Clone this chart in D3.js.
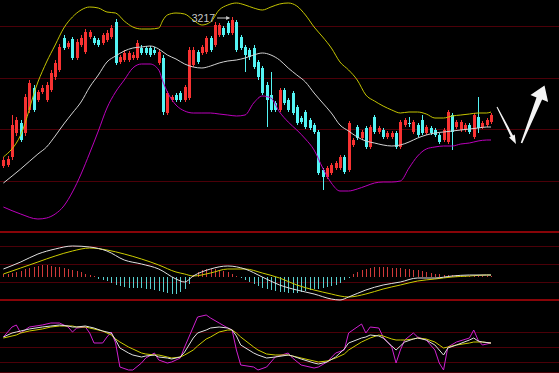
<!DOCTYPE html>
<html>
<head>
<meta charset="utf-8">
<script src="https://cdn.jsdelivr.net/npm/d3@7/dist/d3.min.js"></script>
<style>
html,body{margin:0;padding:0;background:#000;overflow:hidden;}
svg{display:block;}
</style>
</head>
<body>
<svg id="chart" width="559" height="373"></svg>
<script>
// ---------- data ----------
const open  = [2918,2920,2936,2984,3004,2984,3030,3074,3050,3066,3050,3070,3096,3110,3174,3156,3172,3134,3160,3146,
               3176,3174,3170,3164,3170,3176,3206,3126,3130,3130,3134,3134,3154,3154,3154,3150,3124,3134,3024,3050,
               3060,3064,3050,3054,3120,3146,3144,3146,3174,3160,3180,3194,3204,3184,3206,3176,3156,3150,3154,3126,
               3114,3080,3060,3044,3030,3070,3050,3064,3036,3014,3026,3010,3000,2986,2910,2896,2904,2914,2914,2936,
               2910,2960,2996,2974,2994,2956,3016,2986,2990,2976,2976,2984,2956,3000,3004,2986,3000,3010,2984,2994,
               2990,2980,2970,2966,3020,2996,2990,2990,3000,2976,3016,2996,3000,3006];
const high  = [2936,2938,3020,3016,3010,3062,3090,3080,3070,3080,3086,3110,3130,3162,3180,3168,3176,3172,3180,3192,
               3190,3178,3174,3184,3190,3200,3212,3140,3150,3148,3146,3170,3160,3158,3158,3156,3150,3140,3068,3060,
               3064,3068,3080,3156,3156,3150,3160,3178,3178,3206,3204,3198,3208,3217,3210,3180,3160,3154,3160,3130,
               3118,3086,3106,3048,3074,3074,3054,3068,3040,3018,3030,3014,3004,2990,2914,2918,2924,2928,2940,2940,
               3008,2974,3000,2990,2998,3000,3020,2998,2994,2988,2988,2988,3010,3014,3016,3010,3004,3020,3000,2998,
               2994,2984,2994,3030,3024,3010,3010,3004,3004,3024,3056,3008,3014,3024];
const low   = [2914,2916,2930,2978,2966,2978,3024,3026,3046,3062,3046,3066,3090,3106,3150,3152,3130,3130,3156,3142,
               3172,3160,3156,3160,3166,3172,3120,3122,3126,3126,3130,3130,3140,3140,3136,3140,3120,3020,3020,3046,
               3046,3046,3046,3050,3116,3122,3140,3142,3146,3156,3176,3176,3180,3180,3146,3150,3106,3130,3112,3090,
               3060,2996,3026,3026,3026,3040,3026,3020,3000,3002,2992,2990,2982,2900,2870,2892,2900,2910,2910,2902,
               2906,2956,2970,2970,2952,2952,2982,2982,2972,2972,2972,2952,2952,2996,2996,2982,2976,2980,2980,2980,
               2976,2962,2966,2962,2950,2992,2986,2986,2982,2972,2984,2992,2996,3002];
const close = [2930,2932,3000,3010,2970,3056,3084,3030,3066,3074,3080,3104,3124,3156,3154,3164,3134,3166,3174,3186,
               3186,3164,3160,3180,3184,3194,3124,3136,3144,3144,3140,3164,3144,3144,3140,3144,3146,3026,3064,3056,
               3050,3050,3076,3150,3150,3126,3156,3174,3150,3200,3200,3180,3184,3210,3150,3154,3140,3136,3116,3096,
               3064,3050,3030,3030,3070,3044,3030,3024,3004,3006,2996,2994,2986,2904,2896,2914,2920,2924,2936,2906,
               3004,2970,2974,2986,2956,2996,2986,2994,2976,2984,2984,2956,3006,3010,3002,3006,2980,2984,2996,2984,
               2980,2966,2990,3026,2986,3006,3006,3000,2986,3020,2994,3004,3010,3020];

// Bollinger bands, read at these candle indices
const bandIdx   = [0,4,8,10,12,14,16,18,20,22,24,26,28,30,32,34,36,37,38,40,42,44,46,48,50,52,54,56,58,60,
                   62,64,66,68,70,72,74,76,78,80,82,84,86,88,90,92,94,96,98,100,102,104,106,108,110,112,113];
const bollUpper = [2936,2980,3086,3126,3160,3194,3216,3230,3236,3234,3226,3224,3208,3196,3192,3192,3194,3210,3220,3224,
                   3222,3210,3200,3206,3230,3240,3244,3240,3234,3230,3236,3242,3244,3238,3220,3196,3176,3154,3126,3110,
                   3090,3060,3048,3038,3030,3024,3026,3026,3022,3014,3014,3018,3020,3022,3024,3024,3026];
const bollMid   = [2884,2912,2942,2956,2978,3002,3024,3046,3076,3100,3126,3138,3148,3154,3156,3158,3152,3146,3140,3132,
                   3122,3116,3114,3118,3124,3128,3130,3134,3140,3144,3140,3130,3114,3100,3086,3064,3044,3024,3000,2988,
                   2976,2968,2964,2960,2958,2960,2966,2974,2980,2984,2986,2988,2990,2992,2994,2996,2996];
const bollLower = [2836,2822,2812,2814,2822,2838,2866,2902,2944,2988,3034,3066,3090,3114,3122,3122,3110,3086,3066,3040,
                   3028,3024,3024,3024,3022,3020,3018,3020,3044,3058,3054,3026,3006,2990,2972,2950,2914,2884,2868,2868,
                   2872,2878,2884,2886,2886,2888,2914,2938,2952,2956,2958,2958,2962,2964,2968,2970,2970];

// MACD
const macdIdx  = [0,4,8,12,16,20,24,28,32,36,40,42,44,48,52,56,60,64,68,72,76,78,80,84,88,92,96,100,104,108,112,113];
const dif      = [8,15,23,28,31,30,26,17,13,8,-2,-5,1,8,11,8,0,-8,-13,-17,-22,-23,-20,-13,-8,-5,-1,-1,1,2,2,2];
const dea      = [3,9,15,21,26,29,27,23,18,12,5,3,1,4,8,8,4,-1,-8,-13,-17,-19,-20,-17,-12,-8,-4,-2,0,1,2,2];
const macdHist = [3,3,4,5,6,8,9,10,11,12,12,11,10,10,9,8,7,6,5,3,2,1,
                  -2,-3,-4,-6,-8,-9,-10,-11,-11,-11,-11,-12,-12,-13,-14,-15,-16,-17,-17,-15,-12,-7,
                  2,5,7,8,8,8,7,6,5,3,1,
                  -1,-3,-5,-7,-9,-11,-12,-13,-14,-15,-15,-16,-16,-16,-15,-14,-13,-12,-12,-11,-10,-9,-8,-6,-3,-1,
                  3,5,7,8,9,10,10,10,10,9,9,9,8,8,7,7,6,5,4,
                  3,3,2,2,2,2,1,1,1,1,1,1,1,1];

// KDJ
const kdjIdx = [0,2,3,4,6,9,11,13,15,16,17,19,20,21,23,24,25,26,27,29,30,32,33,35,36,38,39,41,42,44,45,47,48,50,52,
                53,54,55,58,59,61,63,66,67,69,72,73,75,77,79,80,83,84,85,87,88,90,91,92,93,95,96,98,100,101,102,103,
                105,108,109,110,111,113];
const kLine = [70,78,80,82,86,90,92,94,92,90,90,92,90,88,82,80,78,64,48,38,34,30,32,34,30,28,26,30,40,68,78,84,88,90,88,
               84,72,54,38,34,28,30,34,32,26,18,16,20,30,46,58,68,70,74,72,68,52,44,52,60,66,68,64,54,44,34,48,
               54,64,68,62,60,58];
const dLine = [68,72,74,78,82,86,90,92,92,92,90,90,88,86,82,78,74,66,60,50,46,38,36,34,34,30,28,30,34,44,52,66,70,80,84,
               84,78,70,50,44,36,34,34,32,28,22,20,22,28,36,44,60,64,68,74,72,66,64,64,64,66,68,66,60,54,48,50,
               54,58,60,60,60,58];
const jLine = [70,90,94,78,90,94,98,98,90,80,88,90,78,58,58,70,80,58,10,4,4,18,28,38,24,18,20,28,50,90,110,114,108,98,88,
               84,44,14,10,4,10,30,38,28,14,8,10,20,38,44,78,96,78,90,88,70,50,18,44,64,78,70,64,44,18,4,50,
               60,68,84,64,54,58];

const peakIndex = 53;
const peakLabel = "3217";

// ---------- drawing ----------
const W = 559, H = 373;
const svg = d3.select("#chart");
svg.append("rect").attr("width", W).attr("height", H).attr("fill", "#000");

const n = open.length;
const x  = d3.scaleLinear().domain([0, n - 1]).range([3.4, 491]);
const yP = d3.scaleLinear().domain([2786, 3250]).range([232, 0]);
const yM = d3.scaleLinear().domain([-23, 45]).range([300, 232]);
const yK = d3.scaleLinear().domain([0, 100]).range([372, 322]);

const COL = {
  up: "#f83232", down: "#54f4f4",
  upper: "#c4c400", mid: "#d2d2d2", lower: "#bc00bc",
  white: "#e0e0e0", yellow: "#cccc00", magenta: "#d020d0",
  grid: "#4c0008", sep: "#880408",
  histUp: "#d03a3a", histDown: "#58d0d0"
};

// grid lines
const grid = svg.append("g").attr("shape-rendering", "crispEdges");
const mainGrid = [1, 2, 3, 4].map(k => 232 - k * 51.5);
const macdGrid = [1, 2, 3].map(k => 300 - k * 18);
const kdjGrid = [80, 50, 20, 0].map(v => yK(v));
grid.selectAll("line.g").data([...mainGrid, ...macdGrid, ...kdjGrid]).join("line")
  .attr("class", "g")
  .attr("x1", 0).attr("x2", W)
  .attr("y1", d => Math.round(d) + 0.5).attr("y2", d => Math.round(d) + 0.5)
  .attr("stroke", COL.grid).attr("stroke-width", 1);
grid.selectAll("line.s").data([232, 300]).join("line")
  .attr("class", "s")
  .attr("x1", 0).attr("x2", W)
  .attr("y1", d => d).attr("y2", d => d)
  .attr("stroke", COL.sep).attr("stroke-width", 2);

// candles
const idx = d3.range(n);
const cg = svg.append("g").attr("shape-rendering", "crispEdges");
const candle = cg.selectAll("g").data(idx).join("g");
const colOf = i => (close[i] >= open[i] ? COL.up : COL.down);
candle.append("line")
  .attr("x1", i => Math.round(x(i)) + 0.5).attr("x2", i => Math.round(x(i)) + 0.5)
  .attr("y1", i => yP(high[i])).attr("y2", i => yP(low[i]))
  .attr("stroke", colOf);
candle.append("rect")
  .attr("x", i => Math.round(x(i)) - 1)
  .attr("y", i => yP(Math.max(open[i], close[i])))
  .attr("width", 3)
  .attr("height", i => Math.max(1, yP(Math.min(open[i], close[i])) - yP(Math.max(open[i], close[i]))))
  .attr("fill", colOf);

// Bollinger lines
svg.append("clipPath").attr("id", "mainClip")
  .append("rect").attr("x", 0).attr("y", 0).attr("width", W).attr("height", 231);
function seriesLine(idxArr, vals, yScale, color, curve, parent) {
  const pts = idxArr.map((d, k) => [x(d), yScale(vals[k])]);
  (parent || svg).append("path")
    .attr("d", d3.line().curve(curve)(pts))
    .attr("fill", "none").attr("stroke", color).attr("stroke-width", 1);
}
const bands = svg.append("g").attr("clip-path", "url(#mainClip)");
seriesLine(bandIdx, bollLower, yP, COL.lower, d3.curveMonotoneX, bands);
seriesLine(bandIdx, bollMid, yP, COL.mid, d3.curveMonotoneX, bands);
seriesLine(bandIdx, bollUpper, yP, COL.upper, d3.curveMonotoneX, bands);

// peak label with pointer
const px = x(peakIndex), py = yP(+peakLabel);
svg.append("text")
  .attr("x", px - 17).attr("y", py + 5)
  .attr("text-anchor", "end")
  .attr("font-family", "Liberation Sans, Arial, sans-serif")
  .attr("font-size", 10.5)
  .attr("fill", "#c8c8c8")
  .text(peakLabel);
svg.append("line")
  .attr("x1", px - 15).attr("x2", px - 3)
  .attr("y1", py + 1.5).attr("y2", py + 1.5)
  .attr("stroke", "#c8c8c8").attr("stroke-width", 1);
svg.append("path")
  .attr("d", `M${px - 2},${py + 1.5} L${px - 6},${py - 0.5} L${px - 6},${py + 3.5} Z`)
  .attr("fill", "#c8c8c8");

// MACD histogram
const mg = svg.append("g").attr("shape-rendering", "crispEdges");
mg.selectAll("line").data(idx).join("line")
  .attr("x1", i => Math.round(x(i)) + 0.5).attr("x2", i => Math.round(x(i)) + 0.5)
  .attr("y1", yM(0)).attr("y2", i => yM(macdHist[i]))
  .attr("stroke", i => (macdHist[i] >= 0 ? COL.histUp : COL.histDown))
  .attr("stroke-width", 1);
seriesLine(macdIdx, dea, yM, COL.yellow, d3.curveMonotoneX);
seriesLine(macdIdx, dif, yM, COL.white, d3.curveMonotoneX);

// KDJ
seriesLine(kdjIdx, jLine, yK, COL.magenta, d3.curveLinear);
seriesLine(kdjIdx, dLine, yK, COL.yellow, d3.curveLinear);
seriesLine(kdjIdx, kLine, yK, COL.white, d3.curveLinear);

// hand-drawn style arrows (annotation)
function arrow(tail, tip, tailHalf, shaftHalf, headHalf, headLen) {
  const dx = tip[0] - tail[0], dy = tip[1] - tail[1];
  const L = Math.hypot(dx, dy), ux = dx / L, uy = dy / L;
  const nx = -uy, ny = ux;
  const bx = tip[0] - ux * headLen, by = tip[1] - uy * headLen;
  const p = [
    [tail[0] + nx * tailHalf, tail[1] + ny * tailHalf],
    [bx + nx * shaftHalf, by + ny * shaftHalf],
    [bx + nx * headHalf, by + ny * headHalf],
    tip,
    [bx - nx * headHalf, by - ny * headHalf],
    [bx - nx * shaftHalf, by - ny * shaftHalf],
    [tail[0] - nx * tailHalf, tail[1] - ny * tailHalf]
  ];
  svg.append("path").attr("d", "M" + p.map(q => q.join(",")).join("L") + "Z").attr("fill", "#f4f4f4");
}
arrow([497, 107], [516, 144], 0.5, 1.3, 3.2, 9);
arrow([521.5, 143], [544.5, 85.5], 0.8, 3, 9.5, 14);
</script>
</body>
</html>
